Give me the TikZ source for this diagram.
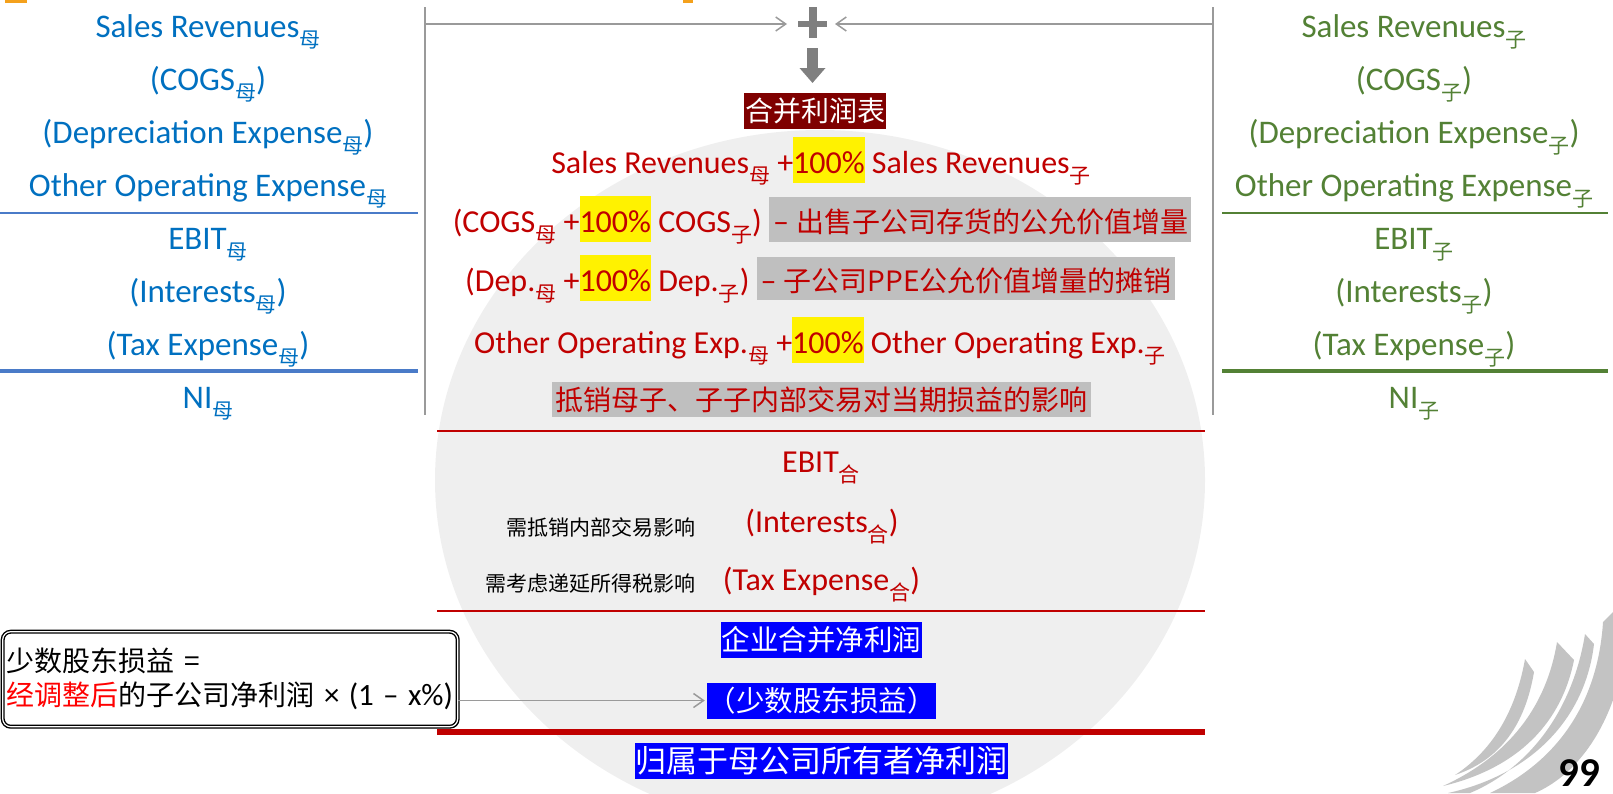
\documentclass[tikz,border=0pt]{standalone}
\usepackage{fontspec}
\setmainfont{Carlito}
\newfontfamily\cjk{Noto Sans CJK SC}
\usetikzlibrary{arrows.meta,positioning,shadows}

\definecolor{pblue}{HTML}{0070C0}
\definecolor{pline}{HTML}{4A7BC8}
\definecolor{cgreen}{HTML}{538135}
\definecolor{mred}{HTML}{C00000}
\definecolor{titlered}{HTML}{7F0000}
\definecolor{hlgray}{HTML}{BFBFBF}
\definecolor{diskgray}{HTML}{EFEFEF}
\definecolor{rulegray}{HTML}{9A9A9A}
\definecolor{signgray}{HTML}{7F7F7F}
\definecolor{boxblue}{HTML}{0000FF}
\definecolor{swoosh}{HTML}{C3C3C3}
\definecolor{tagorange}{HTML}{F4A11C}

% subscripts (母, 子, 合)
\newcommand\zsub[1]{\raisebox{-10pt}{\cjk\fontsize{21}{21}\selectfont #1}}
% yellow and gray highlights
\newcommand\yhl[1]{{\setlength\fboxsep{0pt}\colorbox{yellow}{\rule[-10pt]{0pt}{46pt}#1}}}
\newcommand\ghl[3]{{\setlength\fboxsep{0pt}\colorbox{hlgray}{\rule[-#1]{0pt}{#2}\hspace{4pt}#3\hspace{3pt}}}}
\newcommand\zhfont{\cjk\fontsize{28}{30}\selectfont}

\begin{document}
\begin{tikzpicture}[x=1pt, y=-1pt, node distance=53pt,
    colitem/.style={inner sep=0pt, text height=26pt, text depth=12pt, font=\fontsize{33}{40}\selectfont},
    parentitem/.style={colitem, text=pblue},
    childitem/.style={colitem, text=cgreen},
    mergeditem/.style={anchor=base, inner sep=0pt, text=mred, font=\fontsize{32}{38}\selectfont},
    note/.style={anchor=base east, inner sep=0pt, font=\cjk\fontsize{21}{24}\selectfont},
    bluebox/.style={fill=boxblue, text=white, inner xsep=0.5pt, inner ysep=0pt, minimum height=36pt},
    joinarrow/.style={rulegray, line width=1.5pt, -{Straight Barb[length=10pt,width=14pt]}}]
  \useasboundingbox (0,0) rectangle (1613,793);
  \fill[diskgray] (820,480) ellipse [x radius=385pt, y radius=350pt];
  \fill[tagorange] (5,0) rectangle (27,3);
  \fill[tagorange] (683,0) rectangle (693,3);

  % parent company
  \node[parentitem] (pSales) at (208,30) {Sales Revenues\zsub{母}};
  \node[parentitem, below of=pSales] (pCOGS) {(COGS\zsub{母})};
  \node[parentitem, below of=pCOGS] (pDep) {(Depreciation Expense\zsub{母})};
  \node[parentitem, below of=pDep] (pOther) {Other Operating Expense\zsub{母}};
  \node[parentitem, below of=pOther] (pEBIT) {EBIT\zsub{母}};
  \node[parentitem, below of=pEBIT] (pInt) {(Interests\zsub{母})};
  \node[parentitem, below of=pInt] (pTax) {(Tax Expense\zsub{母})};
  \node[parentitem, below of=pTax] (pNI) {NI\zsub{母}};
  \draw[pline, line width=1.5pt] (0,213) -- (418,213);
  \draw[pline, line width=4.5pt] (0,371) -- (418,371);

  % subsidiary
  \node[childitem] (sSales) at (1414,30) {Sales Revenues\zsub{子}};
  \node[childitem, below of=sSales] (sCOGS) {(COGS\zsub{子})};
  \node[childitem, below of=sCOGS] (sDep) {(Depreciation Expense\zsub{子})};
  \node[childitem, below of=sDep] (sOther) {Other Operating Expense\zsub{子}};
  \node[childitem, below of=sOther] (sEBIT) {EBIT\zsub{子}};
  \node[childitem, below of=sEBIT] (sInt) {(Interests\zsub{子})};
  \node[childitem, below of=sInt] (sTax) {(Tax Expense\zsub{子})};
  \node[childitem, below of=sTax] (sNI) {NI\zsub{子}};
  \draw[cgreen, line width=1.5pt] (1222,213) -- (1608,213);
  \draw[cgreen, line width=4.5pt] (1222,371) -- (1608,371);

  % brackets and plus
  \coordinate (ltop) at (425,24);
  \coordinate (rtop) at (1213,24);
  \coordinate (plus) at (812.5,24);
  \coordinate (arrowtip) at (812.5,83);
  \draw[rulegray, line width=1.5pt] (425,7) -- (425,415);
  \draw[rulegray, line width=1.5pt] (1213,7) -- (1213,415);
  \draw[joinarrow] (ltop) -- ([xshift=-25.5pt]plus);
  \draw[joinarrow] (rtop) -- ([xshift=22.5pt]plus);
  \draw[signgray, line width=6pt] ([xshift=-14.5pt]plus) -- ([xshift=14.5pt]plus);
  \draw[signgray, line width=8pt] ([yshift=17pt]plus) -- ([yshift=-14pt]plus);
  \draw[signgray, line width=11pt, -{Triangle[length=15pt,width=25pt]}] ([yshift=-24pt]plus) -- (arrowtip);

  % consolidated statement
  \node[fill=titlered, text=white, inner xsep=1pt, inner ysep=0pt, minimum height=36pt, font=\zhfont] (title) at (815,111) {合并利润表};
  \node[mergeditem] (mSales) at (821,173) {Sales Revenues\zsub{母} +\yhl{100\%} Sales Revenues\zsub{子}};
  \node[mergeditem] (mCOGS) at (822,232) {(COGS\zsub{母} +\yhl{100\%} COGS\zsub{子}) \ghl{10pt}{45pt}{– {\zhfont 出售子公司存货的公允价值增量}}};
  \node[mergeditem] (mDep) at (820,291) {(Dep.\zsub{母} +\yhl{100\%} Dep.\zsub{子}) \ghl{9pt}{43pt}{– {\zhfont 子公司PPE公允价值增量的摊销}}};
  \node[mergeditem] (mOther) at (820,353) {Other Operating Exp.\zsub{母} +\yhl{100\%} Other Operating Exp.\zsub{子}};
  \node[mergeditem] (mElim) at (821,410) {\ghl{7pt}{35pt}{\zhfont 抵销母子、子子内部交易对当期损益的影响}};
  \draw[mred, line width=2pt] (437,431) -- (1205,431);
  \node[mergeditem] (mEBIT) at (821,472) {EBIT\zsub{合}};
  \node[mergeditem] (mInt) at (822,532) {(Interests\zsub{合})};
  \node[mergeditem] (mTax) at (821.5,590) {(Tax Expense\zsub{合})};
  \node[note] (noteInt) at (696,535) {需抵销内部交易影响};
  \node[note] (noteTax) at (696,591) {需考虑递延所得税影响};
  \draw[mred, line width=2pt] (437,611) -- (1205,611);
  \node[bluebox, font=\cjk\fontsize{28.5}{30}\selectfont] (groupNI) at (821.5,640) {企业合并净利润};
  \node[bluebox, font=\cjk\fontsize{28.5}{30}\selectfont] (minority) at (821.5,700.5) {（少数股东损益）};
  \draw[mred, line width=6pt] (437,732) -- (1205,732);
  \node[bluebox, font=\cjk\fontsize{31}{33}\selectfont] (parentNI) at (821.5,761) {归属于母公司所有者净利润};

  % minority interest note
  \node[draw, double, line width=1.4pt, double distance=1.2pt, rounded corners=8pt, fill=white,
    drop shadow={shadow xshift=1.5pt, shadow yshift=-1.5pt, fill=black, opacity=.7},
    anchor=north west, text width=447pt, inner xsep=4pt, minimum height=95pt, align=left,
    font=\cjk\fontsize{28}{34}\selectfont] (callout) at (2,631)
    {少数股东损益 =\\\textcolor{red}{经调整后}的子公司净利润{\rmfamily\fontsize{31}{34}\selectfont{} × (1 – x\%)}};
  \draw[joinarrow] (callout.east |- minority.west) -- ([xshift=-2pt]minority.west);

  % corner decoration
  \fill[swoosh] (1525,659) -- (1534,672) .. controls (1525,725) and (1500,760) .. (1455,775) .. controls (1490,752) and (1515,715) .. cycle;
  \fill[swoosh] (1557,642) -- (1574,660) .. controls (1560,730) and (1510,770) .. (1443,786) .. controls (1500,760) and (1545,715) .. cycle;
  \fill[swoosh] (1585,634) -- (1594,644) .. controls (1585,720) and (1530,775) .. (1448,793) -- (1470,793) .. controls (1525,770) and (1572,715) .. cycle;
  \fill[swoosh] (1613,612) -- (1613,700) .. controls (1595,750) and (1565,780) .. (1535,793) -- (1490,793) .. controls (1560,760) and (1598,700) .. (1603,622) -- cycle;
  \node[anchor=base, inner sep=0pt, font=\bfseries\fontsize{41}{41}\selectfont] (pagenum) at (1579,786) {99};
\end{tikzpicture}
\end{document}
